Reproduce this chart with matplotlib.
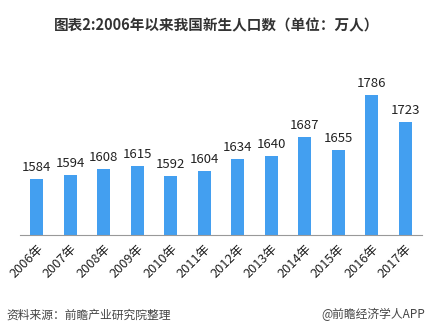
import matplotlib
matplotlib.use("Agg")
import matplotlib.pyplot as plt

plt.rcParams['font.family'] = ['Noto Sans CJK SC', 'DejaVu Sans']

# datos
years = ["2006年", "2007年", "2008年", "2009年", "2010年", "2011年",
         "2012年", "2013年", "2014年", "2015年", "2016年", "2017年"]
births = [1584, 1594, 1608, 1615, 1592, 1604, 1634, 1640, 1687, 1655, 1786, 1723]

fig = plt.figure(figsize=(4.34, 3.33), dpi=100)
ax = fig.add_axes([0.046, 0.294, 0.926, 0.562])

x = range(len(years))
ax.bar(x, births, width=0.39, color="#439ff0")
ax.set_ylim(1450, 1900)
ax.set_xlim(-0.5, len(years) - 0.5)

for xi, v in zip(x, births):
    ax.text(xi, v + 12, str(v), ha="center", va="bottom", fontsize=9.5, color="#222222")

ax.set_xticks(list(x))
ax.set_xticklabels(years, rotation=45, ha="right", rotation_mode="anchor",
                   fontsize=9.2, color="#222222")
ax.tick_params(axis="x", length=0, pad=5)
ax.set_yticks([])
for s in ["top", "right", "left"]:
    ax.spines[s].set_visible(False)
ax.spines["bottom"].set_color("#999999")
ax.spines["bottom"].set_linewidth(0.8)

fig.text(0.5, 0.925, "图表2:2006年以来我国新生人口数（单位：万人）", ha="center", va="center",
         fontsize=10.5, fontweight="bold", color="#333333")
fig.text(0.015, 0.055, "资料来源：前瞻产业研究院整理", ha="left", va="center",
         fontsize=8.5, color="#444444", style="italic")
fig.text(0.98, 0.055, "@前瞻经济学人APP", ha="right", va="center",
         fontsize=8.5, color="#444444")

fig.savefig("out.png", dpi=100)
